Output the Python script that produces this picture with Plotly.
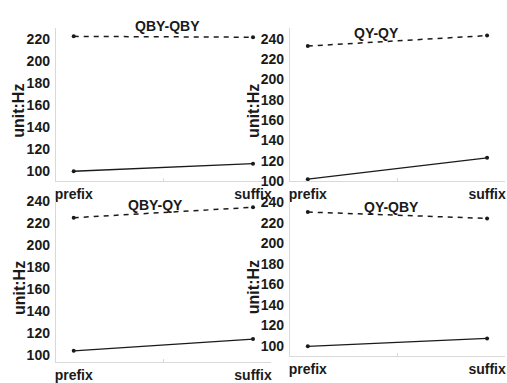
import plotly.graph_objects as go

# Pitch values (Hz) at the prefix and suffix positions for each tone pair
categories = ["prefix", "suffix"]
panel_titles = ["QBY-QBY", "QY-QY", "QBY-QY", "QY-QBY"]
high_tone = [[222.2, 221.4], [232.8, 243.1], [225.3, 234.8], [230.7, 224.5]]
low_tone = [[100.0, 106.9], [101.9, 122.9], [104.3, 115.0], [99.6, 107.4]]
y_ticks = [[100, 120, 140, 160, 180, 200, 220],
           [100, 120, 140, 160, 180, 200, 220, 240],
           [100, 120, 140, 160, 180, 200, 220, 240],
           [100, 120, 140, 160, 180, 200, 220, 240]]
y_title = "unit:Hz"

W, H = 507, 383
FONT = "Arial, Liberation Sans, sans-serif"
INK = "#1a1a1a"
AXIS = "#d9d9d9"

# panel boxes in pixels: (left, right, top, bottom)
boxes = [(55, 271, 22, 183), (290, 506, 22, 183),
         (55, 271, 203, 373), (290, 506, 203, 366)]
y_ranges = [[90.8, 229.8], [99.7, 250.6], [93.7, 241.0], [90.4, 242.0]]
title_pos = [(167, 20), (377, 27), (155, 208), (392, 210)]
ytitle_pos = [(18, 109), (254, 109), (18, 295), (253, 294)]

xs = list(range(len(categories)))

fig = go.Figure()
annotations = []
for i in range(4):
    l, r, t, b = boxes[i]
    sfx = "" if i == 0 else str(i + 1)
    fig.add_trace(go.Scatter(
        x=xs, y=high_tone[i], mode="lines+markers",
        line=dict(color=INK, width=1.5, dash="5px,5px"),
        marker=dict(color=INK, size=4),
        xaxis="x" + sfx, yaxis="y" + sfx, showlegend=False))
    fig.add_trace(go.Scatter(
        x=xs, y=low_tone[i], mode="lines+markers",
        line=dict(color=INK, width=1.3),
        marker=dict(color=INK, size=4),
        xaxis="x" + sfx, yaxis="y" + sfx, showlegend=False))
    fig.layout["xaxis" + sfx] = dict(
        domain=[l / W, r / W], anchor="y" + sfx, range=[-0.1, 1.1],
        tickvals=xs, ticktext=categories, showgrid=False, zeroline=False,
        showline=True, linecolor=AXIS, linewidth=1, ticks="",
        tickfont=dict(family=FONT, size=14, color=INK, weight="bold"),
        minor=dict(tickvals=[0.5], ticks="inside", ticklen=3, tickcolor=AXIS),
        fixedrange=True)
    fig.layout["yaxis" + sfx] = dict(
        domain=[1 - b / H, 1 - t / H], anchor="x" + sfx, range=y_ranges[i],
        tickvals=y_ticks[i], showgrid=False, zeroline=False,
        showline=True, linecolor=AXIS, linewidth=1, ticks="",
        ticklabelstandoff=2,
        tickfont=dict(family=FONT, size=14, color=INK, weight="bold"),
        fixedrange=True)
    tx, ty = title_pos[i]
    annotations.append(dict(
        text=panel_titles[i], x=tx / W, y=1 - ty / H, xref="paper", yref="paper",
        showarrow=False, xanchor="center", yanchor="middle",
        font=dict(family=FONT, size=14, color=INK, weight="bold")))
    ax, ay = ytitle_pos[i]
    annotations.append(dict(
        text=y_title, x=ax / W, y=1 - ay / H, xref="paper", yref="paper",
        showarrow=False, xanchor="center", yanchor="middle", textangle=-90,
        font=dict(family=FONT, size=16, color=INK, weight="bold")))

fig.update_layout(
    width=W, height=H, margin=dict(l=0, r=0, t=0, b=0),
    paper_bgcolor="white", plot_bgcolor="white",
    annotations=annotations)

fig.write_html("out.html", config={"displayModeBar": False})
